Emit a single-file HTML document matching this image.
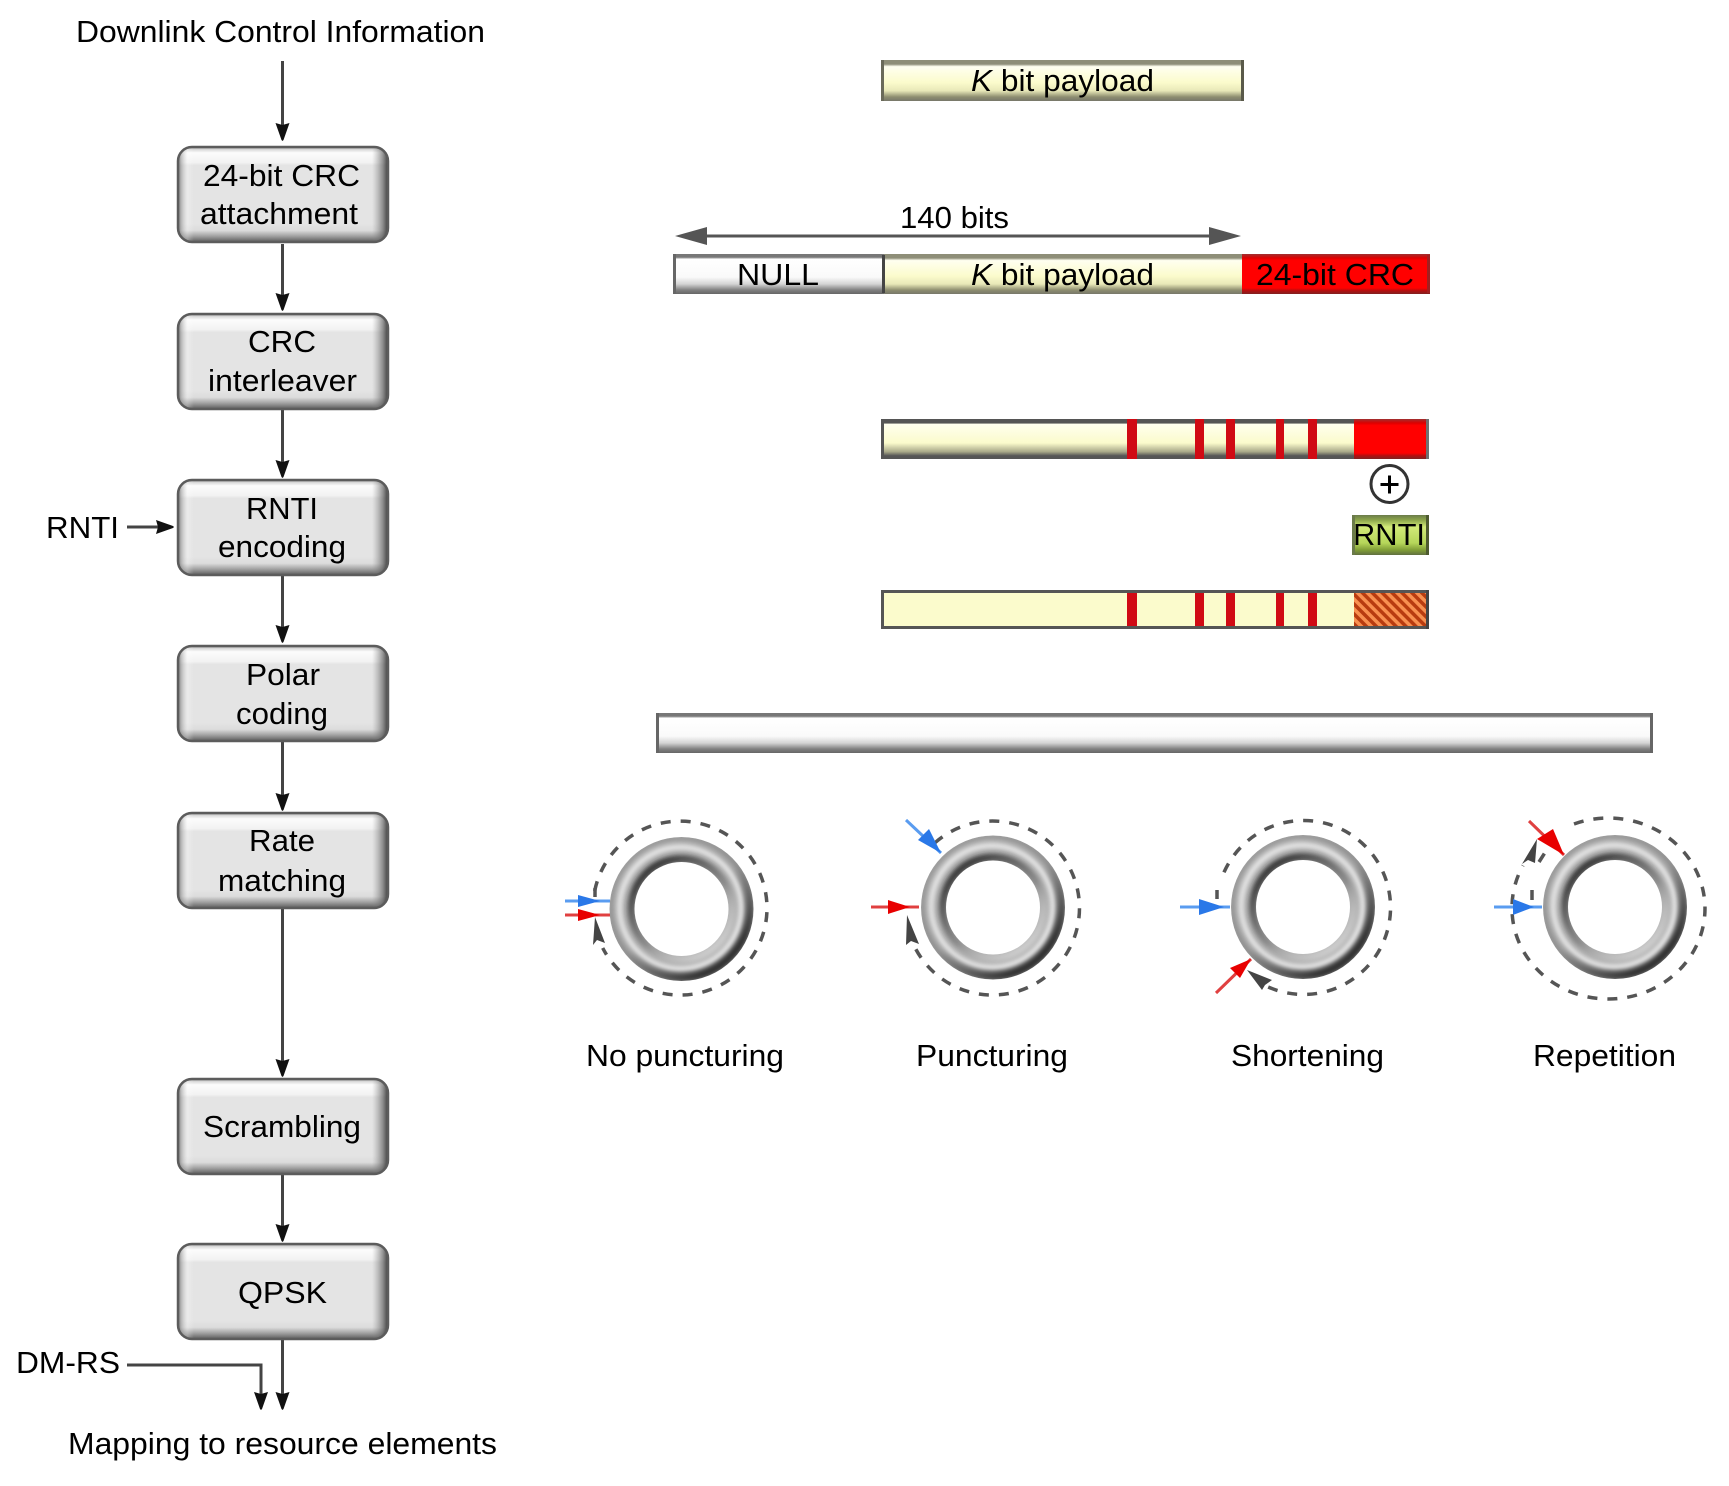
<!DOCTYPE html>
<html><head><meta charset="utf-8"><style>
html,body{margin:0;padding:0;background:#fff}
svg{display:block}
text{font-family:"Liberation Sans",sans-serif;font-size:31px;fill:#000}
</style></head><body>
<svg width="1729" height="1486" viewBox="0 0 1729 1486" xmlns="http://www.w3.org/2000/svg">
<defs>
<linearGradient id="bv" x1="0" y1="0" x2="0" y2="1">
<stop offset="0" stop-color="#7a7a7a"/><stop offset=".035" stop-color="#d8d8d8"/><stop offset=".07" stop-color="#fcfcfc"/><stop offset=".17" stop-color="#f2f2f2"/><stop offset=".2" stop-color="#e4e4e4"/><stop offset=".8" stop-color="#e4e4e4"/><stop offset=".87" stop-color="#dcdcdc"/><stop offset=".93" stop-color="#a0a0a0"/><stop offset="1" stop-color="#505050"/>
</linearGradient>
<linearGradient id="bh" x1="0" y1="0" x2="1" y2="0">
<stop offset="0" stop-color="#444" stop-opacity=".9"/><stop offset=".02" stop-color="#888" stop-opacity=".5"/><stop offset=".05" stop-color="#fff" stop-opacity=".25"/><stop offset=".08" stop-color="#fff" stop-opacity="0"/><stop offset=".92" stop-color="#888" stop-opacity="0"/><stop offset=".97" stop-color="#555" stop-opacity=".6"/><stop offset="1" stop-color="#222" stop-opacity=".95"/>
</linearGradient>
<g id="box">
<rect x="0" y="0" width="212" height="97" rx="15" fill="url(#bv)"/>
<rect x="0" y="0" width="212" height="97" rx="15" fill="url(#bh)"/>
<rect x="1" y="1" width="210" height="95" rx="14" fill="none" stroke="#5c5c5c" stroke-width="2.5"/>
</g>
<path id="ah" d="M-7-18L0-16L7-18L1-1L0 0L-1-1Z" fill="#111"/>
<linearGradient id="pay" x1="0" y1="0" x2="0" y2="1">
<stop offset="0" stop-color="#8e8e78"/><stop offset=".1" stop-color="#8e8e78"/><stop offset=".16" stop-color="#fffff0"/><stop offset=".55" stop-color="#fbfbcc"/><stop offset=".75" stop-color="#e8e8b8"/><stop offset=".9" stop-color="#8e8e70"/><stop offset="1" stop-color="#77776a"/>
</linearGradient>
<linearGradient id="nul" x1="0" y1="0" x2="0" y2="1">
<stop offset="0" stop-color="#777"/><stop offset=".08" stop-color="#777"/><stop offset=".13" stop-color="#fff"/><stop offset=".58" stop-color="#fafafa"/><stop offset=".75" stop-color="#d4d4d4"/><stop offset=".9" stop-color="#808080"/><stop offset="1" stop-color="#666"/>
</linearGradient>
<linearGradient id="red" x1="0" y1="0" x2="0" y2="1">
<stop offset="0" stop-color="#a03030"/><stop offset=".1" stop-color="#d00"/><stop offset=".16" stop-color="#f00"/><stop offset=".85" stop-color="#f00"/><stop offset=".92" stop-color="#b01010"/><stop offset="1" stop-color="#802020"/>
</linearGradient>
<linearGradient id="pay2" x1="0" y1="0" x2="0" y2="1">
<stop offset="0" stop-color="#555"/><stop offset=".1" stop-color="#555"/><stop offset=".13" stop-color="#ffffee"/><stop offset=".6" stop-color="#fbfbcc"/><stop offset=".82" stop-color="#a8a888"/><stop offset=".92" stop-color="#555"/><stop offset="1" stop-color="#555"/>
</linearGradient>
<linearGradient id="grn" x1="0" y1="0" x2="0" y2="1">
<stop offset="0" stop-color="#6b7b4a"/><stop offset=".12" stop-color="#8aa34a"/><stop offset=".3" stop-color="#d2ea78"/><stop offset=".7" stop-color="#b6d65a"/><stop offset=".88" stop-color="#7f9c36"/><stop offset="1" stop-color="#606f40"/>
</linearGradient>
<pattern id="hatch" width="7" height="7" patternUnits="userSpaceOnUse" patternTransform="rotate(-45)">
<rect width="7" height="7" fill="#b83c10"/><rect width="3.500" height="7" fill="#f89050"/>
</pattern>
<mask id="dn" maskUnits="userSpaceOnUse" x="-80" y="-80" width="160" height="160">
<circle r="72" fill="#fff"/><circle r="47" fill="#000"/>
</mask>
<filter id="b2" x="-20%" y="-20%" width="140%" height="140%"><feGaussianBlur stdDeviation="2"/></filter>
<linearGradient id="dk" gradientUnits="userSpaceOnUse" x1="-40" y1="-50" x2="40" y2="50">
<stop offset="0" stop-color="#000" stop-opacity="0"/><stop offset=".5" stop-color="#000" stop-opacity=".08"/><stop offset="1" stop-color="#000" stop-opacity=".7"/>
</linearGradient>
<linearGradient id="ik" gradientUnits="userSpaceOnUse" x1="-35" y1="-45" x2="35" y2="45">
<stop offset="0" stop-color="#222" stop-opacity=".9"/><stop offset=".55" stop-color="#444" stop-opacity=".35"/><stop offset=".85" stop-color="#fff" stop-opacity=".2"/><stop offset="1" stop-color="#fff" stop-opacity=".45"/>
</linearGradient>
<g id="ring">
<g mask="url(#dn)">
<circle r="72" fill="#b0b0b0"/>
<circle r="71" fill="none" stroke="#8c8c8c" stroke-width="3" filter="url(#b2)"/>
<circle cx="-1" cy="-1" r="61" fill="none" stroke="#e8e8e8" stroke-width="5" filter="url(#b2)"/>
<circle r="68" fill="none" stroke="url(#dk)" stroke-width="9" filter="url(#b2)"/>
<circle r="50" fill="none" stroke="url(#ik)" stroke-width="8" filter="url(#b2)"/>
</g>
</g>
</defs>
<rect width="1729" height="1486" fill="#fff"/>

<!-- flow lines -->
<g stroke="#444" stroke-width="3" fill="none">
<path d="M282.500 61V130M282.500 244V298M282.500 410V466M282.500 575V632M282.500 741V800M282.500 908V1066M282.500 1175V1232M282.500 1340V1398"/>
<path d="M127 527H160M127 1365H261V1398"/>
</g>
<g>
<use href="#ah" x="282.500" y="141"/><use href="#ah" x="282.500" y="311"/><use href="#ah" x="282.500" y="478"/><use href="#ah" x="282.500" y="643"/><use href="#ah" x="282.500" y="811"/><use href="#ah" x="282.500" y="1077"/><use href="#ah" x="282.500" y="1242"/><use href="#ah" x="282.500" y="1410"/><use href="#ah" x="261" y="1410"/>
<use href="#ah" transform="translate(174 527) rotate(-90)"/>
</g>

<!-- boxes -->
<use href="#box" x="177" y="146"/><use href="#box" x="177" y="313"/><use href="#box" x="177" y="479"/><use href="#box" x="177" y="645"/><use href="#box" x="177" y="812"/><use href="#box" x="177" y="1078"/><use href="#box" x="177" y="1243"/>

<text x="76" y="42" textLength="409" lengthAdjust="spacingAndGlyphs">Downlink Control Information</text>
<text x="203" y="186" textLength="157" lengthAdjust="spacingAndGlyphs">24-bit CRC</text>
<text x="200" y="224" textLength="158" lengthAdjust="spacingAndGlyphs">attachment</text>
<text x="248" y="352" textLength="68" lengthAdjust="spacingAndGlyphs">CRC</text>
<text x="208" y="391" textLength="149" lengthAdjust="spacingAndGlyphs">interleaver</text>
<text x="246" y="519" textLength="72" lengthAdjust="spacingAndGlyphs">RNTI</text>
<text x="218" y="557" textLength="128" lengthAdjust="spacingAndGlyphs">encoding</text>
<text x="246" y="685" textLength="74" lengthAdjust="spacingAndGlyphs">Polar</text>
<text x="236" y="724" textLength="92" lengthAdjust="spacingAndGlyphs">coding</text>
<text x="249" y="851" textLength="66" lengthAdjust="spacingAndGlyphs">Rate</text>
<text x="218" y="891" textLength="128" lengthAdjust="spacingAndGlyphs">matching</text>
<text x="203" y="1137" textLength="158" lengthAdjust="spacingAndGlyphs">Scrambling</text>
<text x="238" y="1303" textLength="89" lengthAdjust="spacingAndGlyphs">QPSK</text>
<text x="46" y="538" textLength="73" lengthAdjust="spacingAndGlyphs">RNTI</text>
<text x="16" y="1373" textLength="104" lengthAdjust="spacingAndGlyphs">DM-RS</text>
<text x="68" y="1454" textLength="429" lengthAdjust="spacingAndGlyphs">Mapping to resource elements</text>

<!-- top payload -->
<rect x="881" y="60" width="363" height="41" fill="url(#pay)"/>
<rect x="881" y="60" width="3" height="41" fill="#6a6a5a"/><rect x="1241" y="60" width="3" height="41" fill="#5a5a4a"/>
<text x="971" y="91" textLength="183" lengthAdjust="spacingAndGlyphs"><tspan font-style="italic">K</tspan> bit payload</text>

<!-- 140 bits -->
<text x="900" y="228" textLength="109" lengthAdjust="spacingAndGlyphs">140 bits</text>
<path d="M695 236H1212" stroke="#555" stroke-width="3"/>
<path d="M675 236L707 227V245Z M1241 236L1209 227V245Z" fill="#555"/>

<!-- row 2 -->
<rect x="674" y="254" width="210" height="40" fill="url(#nul)"/>
<rect x="884" y="254" width="358" height="40" fill="url(#pay)"/>
<rect x="1242" y="254" width="188" height="40" fill="url(#red)"/>
<rect x="882" y="255" width="3" height="38" fill="#444"/>
<rect x="673" y="254" width="3" height="40" fill="#666"/>
<rect x="1427" y="255" width="3" height="38" fill="#a02020"/>
<text x="737" y="285" textLength="82" lengthAdjust="spacingAndGlyphs">NULL</text>
<text x="971" y="285" textLength="183" lengthAdjust="spacingAndGlyphs"><tspan font-style="italic">K</tspan> bit payload</text>
<text x="1256" y="285" textLength="158" lengthAdjust="spacingAndGlyphs">24-bit CRC</text>

<!-- row 3 -->
<rect x="881" y="419" width="548" height="40" fill="url(#pay2)"/>
<rect x="881" y="419" width="3" height="40" fill="#555"/>
<g fill="#d00a14"><rect x="1127" y="419" width="10" height="40"/><rect x="1195" y="419" width="9" height="40"/><rect x="1226" y="419" width="9" height="40"/><rect x="1276" y="419" width="8" height="40"/><rect x="1308" y="419" width="9" height="40"/></g>
<rect x="1354" y="419" width="75" height="40" fill="url(#red)"/>
<rect x="1426" y="419" width="3" height="40" fill="#707070"/>
<circle cx="1389.500" cy="484" r="18.500" fill="#fff" stroke="#333" stroke-width="3"/>
<path d="M1380.500 484.500H1398.500M1389.500 475.500V493.500" stroke="#000" stroke-width="3"/>
<rect x="1352" y="515" width="77" height="40" fill="url(#grn)"/>
<rect x="1352" y="515" width="3" height="40" fill="#6b7b4a"/><rect x="1426" y="515" width="3" height="40" fill="#4e5a30"/>
<text x="1353" y="545" textLength="72" lengthAdjust="spacingAndGlyphs">RNTI</text>

<!-- row 4 -->
<rect x="881" y="590" width="548" height="39" fill="#fbfbcc"/>
<g fill="#d00a14"><rect x="1127" y="590" width="10" height="39"/><rect x="1195" y="590" width="9" height="39"/><rect x="1226" y="590" width="9" height="39"/><rect x="1276" y="590" width="8" height="39"/><rect x="1308" y="590" width="9" height="39"/></g>
<rect x="1354" y="590" width="75" height="39" fill="url(#hatch)"/>
<rect x="881" y="590" width="548" height="3" fill="#555"/><rect x="881" y="626" width="548" height="3" fill="#555"/>
<rect x="881" y="590" width="3" height="39" fill="#555"/><rect x="1426" y="590" width="3" height="39" fill="#444"/>

<!-- wide bar -->
<rect x="656" y="713" width="997" height="40" fill="url(#nul)"/>
<rect x="656" y="713" width="3" height="40" fill="#666"/><rect x="1650" y="713" width="3" height="40" fill="#666"/>

<!-- rings -->
<use href="#ring" x="681.500" y="909"/>
<use href="#ring" x="993" y="907.500"/>
<use href="#ring" x="1303" y="907"/>
<use href="#ring" x="1615" y="907"/>

<g fill="none" stroke="#555" stroke-width="3.500" stroke-dasharray="10 10">
<path d="M594.700 891A87 87 0 1 1 602.700 948"/>
<path d="M595 888V897"/>
<path d="M934.700 843A87 87 0 1 1 914.200 946"/>
<path d="M1217 890V899M1268.200 987A87 87 0 1 0 1221 880"/>
<path d="M1532 890V900M1539 862L1553 840L1564 835"/>
<path d="M1574 824A96.500 90.500 0 1 1 1512 907.500A96.500 90.500 0 0 1 1523 865.500"/>
</g>
<!-- grey heads -->
<g fill="#444">
<path d="M595 917L593 945L597 940L605 943Z"/>
<path d="M907 915L906 945L911 941L919 944Z"/>
<path d="M1247 970L1262 990L1265 985L1272 980Z"/>
<path d="M1537 839L1522 864L1528 860L1535 863Z"/>
</g>
<!-- blue arrows -->
<g stroke="#5a9cf0" stroke-width="3" fill="none">
<path d="M565 901H610"/>
<path d="M906 820L941 853"/>
<path d="M1180 907H1230"/>
<path d="M1494 907H1542"/>
</g>
<g fill="#2a78e8">
<path d="M578 895V907L600 901Z"/>
<path d="M918 840L929 829L941 853Z"/>
<path d="M1199 899V915L1224 907Z"/>
<path d="M1513 899V915L1534 907Z"/>
</g>
<!-- red arrows -->
<g stroke="#e04040" stroke-width="3" fill="none">
<path d="M565 915H610"/>
<path d="M871 907H919"/>
<path d="M1216 993L1251 959"/>
<path d="M1529 821L1564 855"/>
</g>
<g fill="#e80000">
<path d="M578 909V921L600 915Z"/>
<path d="M888 900V914L910 907Z"/>
<path d="M1230 968L1240 978L1251 959Z"/>
<path d="M1537 839L1553 829L1564 855Z"/>
</g>

<text x="586" y="1066" textLength="198" lengthAdjust="spacingAndGlyphs">No puncturing</text>
<text x="916" y="1066" textLength="152" lengthAdjust="spacingAndGlyphs">Puncturing</text>
<text x="1231" y="1066" textLength="153" lengthAdjust="spacingAndGlyphs">Shortening</text>
<text x="1533" y="1066" textLength="143" lengthAdjust="spacingAndGlyphs">Repetition</text>
</svg>
</body></html>
